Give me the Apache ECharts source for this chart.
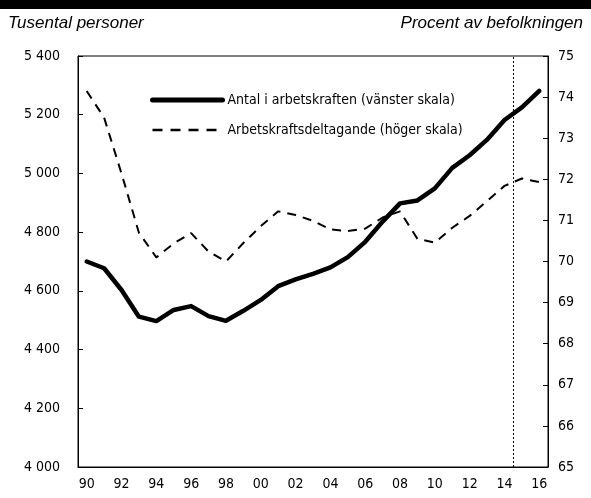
<!DOCTYPE html>
<html>
<head>
<meta charset="utf-8">
<script src="https://cdn.jsdelivr.net/npm/echarts@6/dist/echarts.min.js"></script>
<style>
	html, body { margin: 0; padding: 0; background: #fff; }
	#chart { width: 591px; height: 498px; }
</style>
</head>
<body>
<div id="chart"></div>
<script>
	// år (kategorier)
	var years = ['90', '91', '92', '93', '94', '95', '96', '97', '98', '99', '00', '01', '02', '03',
		'04', '05', '06', '07', '08', '09', '10', '11', '12', '13', '14', '15', '16'];
	// tusental personer, vänster skala
	var labourForce = [4700, 4677, 4603, 4512, 4497, 4535, 4548, 4514, 4498, 4532, 4569, 4616, 4639, 4658,
		4680, 4715, 4767, 4836, 4898, 4908, 4949, 5019, 5062, 5115, 5182, 5225, 5281];
	// procent av befolkningen, höger skala
	var participation = [74.15, 73.5, 72.14, 70.7, 70.1, 70.44, 70.69, 70.24, 70.0, 70.45, 70.86, 71.22, 71.13, 70.99,
		70.78, 70.74, 70.8, 71.07, 71.22, 70.55, 70.46, 70.82, 71.11, 71.47, 71.84, 72.02, 71.93];
	// prognosgräns (mellan 2014 och 2015)
	var forecastStart = [2014.5];

	var font = "'Liberation Sans Narrow', 'DejaVu Sans Condensed', sans-serif";
	var titleFont = "'Liberation Sans', Arial, sans-serif";
	var names = ['Antal i arbetskraften (vänster skala)', 'Arbetskraftsdeltagande (höger skala)'];

	var chart = echarts.init(document.getElementById('chart'));
	var option = {
		animation: false,
		textStyle: { fontFamily: font, color: '#000' },
		grid: {
			left: 78, right: 43, top: 56, bottom: 31,
			show: true, borderColor: '#000', borderWidth: 1
		},
		graphic: [
			{ type: 'rect', left: 0, top: 0, shape: { width: 591, height: 9 }, style: { fill: '#000' } },
			{ type: 'text', left: 8, top: 15, style: { text: 'Tusental personer', fontFamily: titleFont, fontStyle: 'italic', fontSize: 17, fill: '#000' } },
			{ type: 'text', right: 8, top: 15, style: { text: 'Procent av befolkningen', fontFamily: titleFont, fontStyle: 'italic', fontSize: 17, fill: '#000' } }
		],
		legend: {
			data: [
				{ name: names[0], lineStyle: { width: 5, cap: 'round' } },
				{ name: names[1], lineStyle: { width: 2.5, type: [10, 8] } }
			],
			orient: 'vertical',
			left: 145, top: 88,
			itemWidth: 70, itemHeight: 14, itemGap: 16,
			itemStyle: { opacity: 0 },
			textStyle: { fontFamily: font, fontSize: 14, color: '#000' }
		},
		xAxis: [{
			type: 'category',
			data: years,
			boundaryGap: true,
			axisLine: { lineStyle: { color: '#000', width: 1 } },
			axisTick: { inside: true, length: 5, interval: 0, lineStyle: { color: '#000' } },
			axisLabel: { interval: 1, fontSize: 14, color: '#000', fontFamily: font, margin: 10 },
			splitLine: { show: false }
		}, {
			// utåtriktade streck under axeln
			type: 'category',
			data: years,
			boundaryGap: true,
			position: 'bottom',
			axisLine: { show: false },
			axisTick: { inside: false, length: 4, interval: 0, lineStyle: { color: '#000' } },
			axisLabel: { show: false },
			splitLine: { show: false }
		}, {
			type: 'value',
			min: 1989.5,
			max: 2016.5,
			show: false
		}],
		yAxis: [{
			type: 'value',
			min: 4000, max: 5400, interval: 200,
			axisLine: { show: true, lineStyle: { color: '#000' } },
			axisTick: { show: true, inside: true, length: 5, lineStyle: { color: '#000' } },
			axisLabel: {
				fontSize: 14, color: '#000', fontFamily: font, margin: 18,
				formatter: function(v) {
					return String(v).replace(/\B(?=(\d{3})+(?!\d))/g, ' ');
				}
			},
			splitLine: { show: false }
		}, {
			type: 'value',
			position: 'right',
			min: 65, max: 75, interval: 1,
			axisLine: { show: true, lineStyle: { color: '#000' } },
			axisTick: { show: true, inside: true, length: 5, lineStyle: { color: '#000' } },
			axisLabel: { fontSize: 14, color: '#000', fontFamily: font, margin: 10 },
			splitLine: { show: false }
		}],
		series: [{
			name: names[0],
			type: 'line',
			xAxisIndex: 0, yAxisIndex: 0,
			data: labourForce,
			symbol: 'none',
			lineStyle: { color: '#000', width: 4.5, join: 'round', cap: 'round' },
			itemStyle: { color: '#000' },
			z: 3
		}, {
			name: names[1],
			type: 'line',
			xAxisIndex: 0, yAxisIndex: 1,
			data: participation,
			symbol: 'none',
			lineStyle: { color: '#000', width: 2, type: [9, 7] },
			itemStyle: { color: '#000' },
			z: 2
		}, {
			type: 'line',
			xAxisIndex: 2, yAxisIndex: 0,
			data: [],
			symbol: 'none',
			silent: true,
			markLine: {
				silent: true,
				symbol: 'none',
				label: { show: false },
				lineStyle: { color: '#000', width: 1, type: [2, 2] },
				data: forecastStart.map(function(x) { return { xAxis: x }; })
			}
		}]
	};
	chart.setOption(option);
</script>
</body>
</html>
